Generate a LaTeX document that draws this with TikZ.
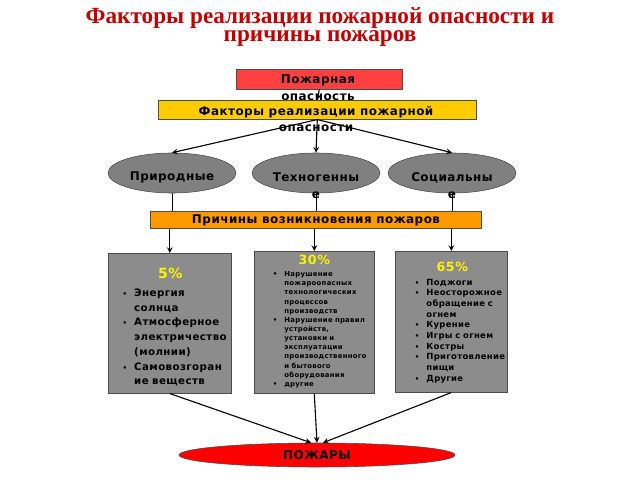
\documentclass[tikz,border=0pt]{standalone}
\usepackage{fontspec}
\usepackage{enumitem}
\setmainfont{DejaVu Sans}[LetterSpace=4]
\newfontfamily\titlefont{Liberation Serif}
\usetikzlibrary{shapes.geometric}
\definecolor{titlered}{HTML}{C00000}
\definecolor{boxgray}{HTML}{8C8C8C}
\tikzset{
  bar/.style={draw=black!70, anchor=north west, inner sep=0pt},
  bartext/.style={font=\bfseries\fontsize{8.5}{12}\selectfont, align=center},
  oval/.style={ellipse, draw=black!70, fill=gray, minimum width=128*0.025cm, minimum height=40*0.025cm},
  causebox/.style={draw=black!70, fill=boxgray, anchor=north west, inner sep=0pt},
  arr/.style={->, >=stealth, thick},
}
\setlist[itemize]{leftmargin=18pt, itemsep=0pt, topsep=0pt, parsep=0pt, label=\tiny\textbullet}
\begin{document}
\begin{tikzpicture}[x=0.025cm, y=-0.025cm]
  \useasboundingbox (0,0) rectangle (640,480);

  % Title
  \node[font=\titlefont\bfseries\fontsize{16.5}{11}\selectfont, text=titlered, align=center] (title) at (320,27)
    {Факторы реализации пожарной опасности и\\причины пожаров};

  % Top bars
  \node[bar, fill={rgb,255:red,255;green,64;blue,64}, minimum width=166*0.025cm, minimum height=20*0.025cm] (danger) at (236,69) {};
  \node[bartext] at (318,88) {Пожарная\\опасность};
  \node[bar, fill={rgb,255:red,255;green,204;blue,0}, minimum width=318*0.025cm, minimum height=19*0.025cm] (factors) at (158,100) {};
  \node[bartext] at (316,119) {Факторы реализации пожарной\\опасности};
  \draw[arr] (danger.south) -- (factors.north);

  % Factor groups
  \node[oval] (nat) at (172,173) {};
  \node[oval] (tech) at (316,173) {};
  \node[oval] (soc) at (452,173) {};
  \node[bartext] at (172,177) {Природные};
  \node[bartext] at (316,186) {Техногенны\\е};
  \node[bartext] at (452,186) {Социальны\\е};
  \draw[arr] (factors.south) -- (nat.north);
  \draw[arr] (factors.south) -- (tech.north);
  \draw[arr] (factors.south) -- (soc.north);

  % Causes bar
  \node[bar, fill={rgb,255:red,255;green,153;blue,0}, minimum width=331*0.025cm, minimum height=17*0.025cm] (causes) at (150,211) {};
  \node[bartext] at (316,220) {Причины возникновения пожаров};
  \draw[semithick] (nat.south) -- (nat.south |- causes.north);
  \draw[semithick] (tech.south) -- (tech.south |- causes.north);
  \draw[semithick] (soc.south) -- (soc.south |- causes.north);

  % Cause boxes
  \node[causebox, minimum width=123*0.025cm, minimum height=140*0.025cm] (box5) at (108,253) {};
  \node[causebox, minimum width=120*0.025cm, minimum height=142*0.025cm] (box30) at (254,251) {};
  \node[causebox, minimum width=112*0.025cm, minimum height=141*0.025cm] (box65) at (395,251) {};
  \draw[arr] (causes.south -| box5.north) -- (box5.north);
  \draw[arr] (causes.south -| box30.north) -- (box30.north);
  \draw[arr] (causes.south -| box65.north) -- (box65.north);

  \node[anchor=north west, text width=120*0.025cm, inner sep=0pt, font=\bfseries\fontsize{7.3}{10.5}\selectfont] at (110,268) {%
    \centering{\color{yellow}\fontsize{10}{12}\selectfont 5\%}\par\raggedright
    \begin{itemize}[leftmargin=17pt]
      \item Энергия солнца
      \item Атмосферное электричество (молнии)
      \item Самовозгоран ие веществ
    \end{itemize}};
  \node[anchor=north west, text width=116*0.025cm, inner sep=0pt, font=\bfseries\fontsize{4.9}{6.5}\selectfont] at (256,255) {%
    \centering{\color{yellow}\fontsize{9}{10}\selectfont 30\%}\par\raggedright
    \begin{itemize}[leftmargin=20pt]
      \item Нарушение пожароопасных технологических процессов производств
      \item Нарушение правил устройств, установки и эксплуатации производственного и бытового оборудования
      \item другие
    \end{itemize}};
  \node[anchor=north west, text width=108*0.025cm, inner sep=0pt, font=\bfseries\fontsize{6}{7.6}\selectfont] at (398,262) {%
    \centering{\color{yellow}\fontsize{9}{11}\selectfont 65\%}\par\raggedright
    \begin{itemize}[leftmargin=20pt]
      \item Поджоги
      \item Неосторожное обращение с огнем
      \item Курение
      \item Игры с огнем
      \item Костры
      \item Приготовление пищи
      \item Другие
    \end{itemize}};

  % Fires
  \node[ellipse, draw=black!70, fill=red, minimum width=276*0.025cm, minimum height=24*0.025cm, font=\bfseries\fontsize{8.5}{10}\selectfont, inner sep=0pt] (fires) at (317,455) {ПОЖАРЫ};
  \draw[arr] (box5.south) -- ([xshift=-0.15cm]fires.north);
  \draw[arr] (box30.south) -- (fires.north);
  \draw[arr] (box65.south) -- ([xshift=0.15cm]fires.north);
\end{tikzpicture}
\end{document}
